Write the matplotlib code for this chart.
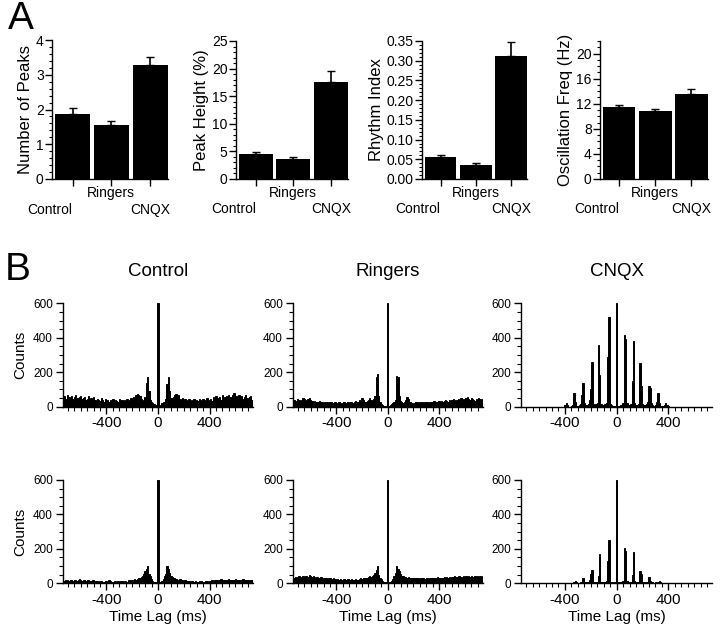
import numpy as np
import matplotlib
matplotlib.use('Agg')
import matplotlib.pyplot as plt
from matplotlib.ticker import MultipleLocator

matplotlib.rcParams['font.family'] = ['Liberation Sans', 'DejaVu Sans']
matplotlib.rcParams['axes.linewidth'] = 1.0

# ---------------- Panel A data ----------------
groups = ['Control', 'Ringers', 'CNQX']
peaks_mean = [1.88, 1.56, 3.27]
peaks_err = [0.15, 0.11, 0.24]
height_mean = [4.6, 3.6, 17.5]
height_err = [0.3, 0.3, 2.0]
rhythm_mean = [0.055, 0.036, 0.312]
rhythm_err = [0.006, 0.004, 0.035]
freq_mean = [11.5, 10.8, 13.6]
freq_err = [0.3, 0.4, 0.7]

# ---------------- Panel B data (10 ms bins, centres -770..770) ----------------
ctrl_top = [
    45, 55, 40, 50, 60, 45, 40, 65, 55, 50,
    60, 45, 55, 70, 50, 40, 55, 60, 45, 50,
    55, 40, 45, 60, 35, 50, 45, 55, 40, 35,
    45, 40, 35, 50, 40, 30, 45, 35, 40, 30,
    40, 35, 45, 30, 40, 35, 30, 45, 35, 40,
    30, 40, 35, 45, 30, 40, 50, 45, 55, 40,
    70, 75, 65, 60, 45, 35, 40, 55, 140, 170,
    90, 40, 25, 20, 15, 10, 5, 600, 5, 10,
    20, 25, 30, 45, 130, 175, 90, 50, 40, 55,
    70, 75, 60, 70, 45, 40, 50, 35, 45, 40,
    35, 45, 30, 40, 35, 45, 30, 40, 35, 45,
    40, 30, 45, 35, 40, 50, 35, 40, 45, 35,
    55, 45, 60, 50, 45, 55, 40, 65, 50, 55,
    60, 45, 70, 55, 50, 65, 80, 55, 60, 50,
    65, 55, 60, 45, 55, 70, 50, 45, 55, 60,
    40, 55, 45, 60, 35,
]
ring_top = [
    40, 35, 45, 30, 40, 35, 30, 45, 40, 35,
    40, 50, 45, 35, 40, 45, 50, 40, 35, 30,
    35, 30, 25, 30, 35, 25, 30, 20, 25, 30,
    25, 20, 30, 25, 20, 15, 25, 20, 15, 25,
    20, 15, 20, 25, 15, 20, 25, 20, 30, 25,
    20, 30, 35, 25, 30, 40, 35, 50, 40, 30,
    25, 35, 40, 50, 40, 30, 45, 60, 175, 190,
    60, 25, 15, 10, 5, 5, 5, 600, 5, 10,
    15, 20, 30, 40, 180, 175, 60, 35, 25, 20,
    30, 40, 55, 45, 30, 25, 20, 15, 20, 25,
    20, 25, 20, 25, 30, 20, 25, 30, 25, 20,
    25, 30, 25, 35, 30, 25, 30, 35, 30, 35,
    30, 35, 40, 35, 30, 40, 35, 40, 45, 40,
    35, 40, 45, 40, 50, 45, 40, 45, 50, 55,
    45, 40, 50, 45, 40, 35, 45, 40, 50, 45,
    35, 45, 40, 50, 40,
]
cnqx_top = [
    0, 0, 0, 0, 0, 0, 0, 0, 0, 0,
    0, 0, 0, 0, 0, 0, 0, 0, 0, 0,
    0, 0, 0, 0, 0, 0, 0, 0, 0, 0,
    0, 0, 0, 0, 0, 0, 0, 10, 20, 10,
    0, 0, 5, 10, 80, 25, 5, 5, 10, 15,
    70, 135, 20, 10, 10, 15, 40, 100, 260, 15,
    10, 15, 20, 360, 185, 15, 10, 10, 15, 20,
    290, 520, 15, 10, 5, 5, 5, 600, 5, 5,
    10, 10, 20, 415, 395, 20, 10, 10, 15, 150,
    380, 20, 10, 10, 15, 255, 120, 15, 10, 10,
    15, 25, 120, 110, 20, 10, 5, 10, 25, 80,
    20, 5, 5, 5, 10, 20, 10, 5, 0, 0,
    0, 0, 0, 0, 0, 0, 0, 0, 0, 0,
    0, 0, 0, 0, 0, 0, 0, 0, 0, 0,
    0, 0, 0, 0, 0, 0, 0, 0, 0, 0,
    0, 0, 0, 0, 0,
]
ctrl_bot = [
    15, 18, 12, 20, 15, 17, 13, 18, 15, 20,
    18, 15, 22, 17, 15, 20, 25, 18, 15, 20,
    17, 15, 20, 18, 12, 15, 17, 20, 15, 13,
    12, 10, 15, 12, 8, 10, 15, 12, 10, 18,
    12, 10, 8, 12, 15, 10, 12, 8, 15, 12,
    10, 15, 12, 10, 18, 20, 18, 22, 20, 25,
    22, 25, 28, 30, 35, 45, 55, 70, 85, 100,
    55, 40, 25, 15, 10, 5, 5, 600, 5, 10,
    15, 25, 40, 55, 100, 85, 60, 40, 35, 30,
    28, 25, 22, 20, 25, 20, 18, 15, 17, 15,
    12, 15, 10, 13, 12, 10, 12, 8, 10, 12,
    10, 12, 8, 10, 12, 15, 10, 12, 15, 18,
    15, 18, 20, 17, 22, 18, 25, 20, 18, 22,
    20, 18, 25, 22, 20, 18, 22, 25, 20, 18,
    20, 22, 18, 25, 20, 17, 22, 20, 18, 22,
    20, 18, 22, 15, 20,
]
ring_bot = [
    30, 35, 28, 40, 32, 38, 30, 35, 42, 36,
    38, 42, 35, 45, 40, 38, 48, 42, 36, 40,
    35, 30, 38, 32, 28, 35, 30, 33, 28, 30,
    25, 28, 30, 25, 22, 28, 25, 20, 25, 22,
    25, 20, 22, 25, 18, 22, 25, 20, 22, 25,
    20, 22, 25, 20, 22, 25, 28, 25, 30, 28,
    30, 32, 35, 40, 38, 45, 50, 60, 75, 100,
    50, 30, 25, 15, 10, 8, 5, 600, 5, 8,
    15, 25, 45, 60, 100, 85, 70, 55, 45, 40,
    35, 38, 32, 35, 30, 33, 28, 30, 32, 28,
    30, 28, 25, 30, 28, 32, 25, 28, 30, 27,
    30, 28, 32, 30, 25, 30, 35, 28, 30, 32,
    30, 35, 32, 38, 30, 35, 33, 38, 35, 40,
    38, 35, 40, 42, 38, 35, 40, 36, 42, 38,
    40, 36, 42, 38, 35, 40, 38, 42, 36, 40,
    38, 42, 35, 40, 38,
]
cnqx_bot = [
    0, 0, 0, 0, 0, 0, 0, 0, 0, 0,
    0, 0, 0, 0, 0, 0, 0, 0, 0, 0,
    0, 0, 0, 0, 0, 0, 0, 0, 0, 0,
    0, 0, 0, 0, 0, 0, 0, 0, 0, 0,
    0, 0, 0, 0, 5, 14, 5, 0, 0, 5,
    10, 30, 10, 5, 5, 10, 20, 52, 76, 10,
    5, 5, 10, 40, 170, 10, 5, 5, 10, 15,
    130, 254, 10, 5, 5, 5, 5, 600, 5, 5,
    5, 10, 15, 205, 190, 15, 5, 5, 10, 50,
    182, 15, 5, 5, 10, 72, 55, 10, 5, 5,
    5, 10, 37, 15, 5, 5, 0, 5, 5, 5,
    14, 5, 0, 0, 0, 0, 0, 0, 0, 0,
    0, 0, 0, 0, 0, 0, 0, 0, 0, 0,
    0, 0, 0, 0, 0, 0, 0, 0, 0, 0,
    0, 0, 0, 0, 0, 0, 0, 0, 0, 0,
    0, 0, 0, 0, 0,
]
lags = np.arange(-770, 771, 10)
titles = ['Control', 'Ringers', 'CNQX']

W, H = 720, 633
fig = plt.figure(figsize=(W/100, H/100), dpi=100)


def rect(l, t, r, b):
    return [l/W, 1 - b/H, (r - l)/W, (b - t)/H]


# ---------------- Panel A ----------------
panelA = [
    (rect(52, 40, 168, 179), peaks_mean, peaks_err, 'Number of Peaks', (0, 4), 1, 0.2, '%g'),
    (rect(236, 41, 348, 179), height_mean, height_err, 'Peak Height (%)', (0, 25), 5, 1, '%g'),
    (rect(422, 41, 527, 179), rhythm_mean, rhythm_err, 'Rhythm Index', (0, 0.35), 0.05, 0.01, '%.2f'),
    (rect(600, 41, 708, 179), freq_mean, freq_err, 'Oscillation Freq (Hz)', (0, 22), 4, 1, '%g'),
]
x = np.arange(3)
for r, m, e, lab, yl, maj, mnr, fmt in panelA:
    ax = fig.add_axes(r)
    ax.bar(x, m, width=0.9, color='k')
    ax.errorbar(x, m, yerr=[[0, 0, 0], e], fmt='none', ecolor='k', capsize=3, lw=1.2)
    ax.set_xlim(-0.53, 2.46)
    ax.set_ylim(*yl)
    ax.yaxis.set_major_locator(MultipleLocator(maj))
    ax.yaxis.set_minor_locator(MultipleLocator(mnr))
    ax.yaxis.set_major_formatter(matplotlib.ticker.FormatStrFormatter(fmt))
    ax.set_xticks(x)
    ax.set_xticklabels([])
    ax.tick_params(axis='both', labelsize=10, length=5, width=1, pad=1)
    ax.tick_params(axis='y', which='minor', length=2.5, width=0.8)
    ax.set_ylabel(lab, fontsize=12, labelpad=2)
    for s in ['top', 'right']:
        ax.spines[s].set_visible(False)
    # staggered category labels
    ax.text(1, -0.1, groups[1], transform=ax.get_xaxis_transform(), ha='center', va='center', fontsize=10)
    ax.text(0.0, -0.22, groups[0], transform=ax.get_xaxis_transform(), ha='right', va='center', fontsize=10)
    ax.text(2.0, -0.22, groups[2], transform=ax.get_xaxis_transform(), ha='center', va='center', fontsize=10)

fig.text(8/W, 1 - 19/H, 'A', fontsize=28, va='center', ha='left')
fig.text(5/W, 1 - 270/H, 'B', fontsize=28, va='center', ha='left')

# ---------------- Panel B ----------------
cols = [(62.7, 253.3), (292.7, 482.7), (521, 712.3)]
rows = [(303.3, 406.7), (480, 583.3)]
data = [[ctrl_top, ring_top, cnqx_top], [ctrl_bot, ring_bot, cnqx_bot]]
for i, (t, b) in enumerate(rows):
    for j, (l, r) in enumerate(cols):
        ax = fig.add_axes(rect(l, t, r, b))
        ax.bar(lags, data[i][j], width=10, color='k', edgecolor='k', linewidth=0.7)
        ax.set_xlim(-740, 740)
        ax.set_ylim(0, 600)
        ax.set_xticks([-400, 0, 400])
        ax.set_xticklabels(['-400', '0', '400'])
        ax.xaxis.set_minor_locator(MultipleLocator(50))
        ax.yaxis.set_major_locator(MultipleLocator(200))
        ax.yaxis.set_minor_locator(MultipleLocator(50))
        ax.tick_params(axis='x', labelsize=11, length=5, width=1, pad=2)
        ax.tick_params(axis='y', labelsize=8.5, length=5, width=1, pad=2)
        ax.tick_params(which='minor', length=3, width=0.8)
        for s in ['top', 'right']:
            ax.spines[s].set_visible(False)
        if i == 0:
            ax.set_title(titles[j], fontsize=13.5, pad=20)
        else:
            ax.set_xlabel('Time Lag (ms)', fontsize=11, labelpad=2)
        if j == 0:
            ax.set_ylabel('Counts', fontsize=11, labelpad=4)

plt.savefig('out.png', dpi=100)
